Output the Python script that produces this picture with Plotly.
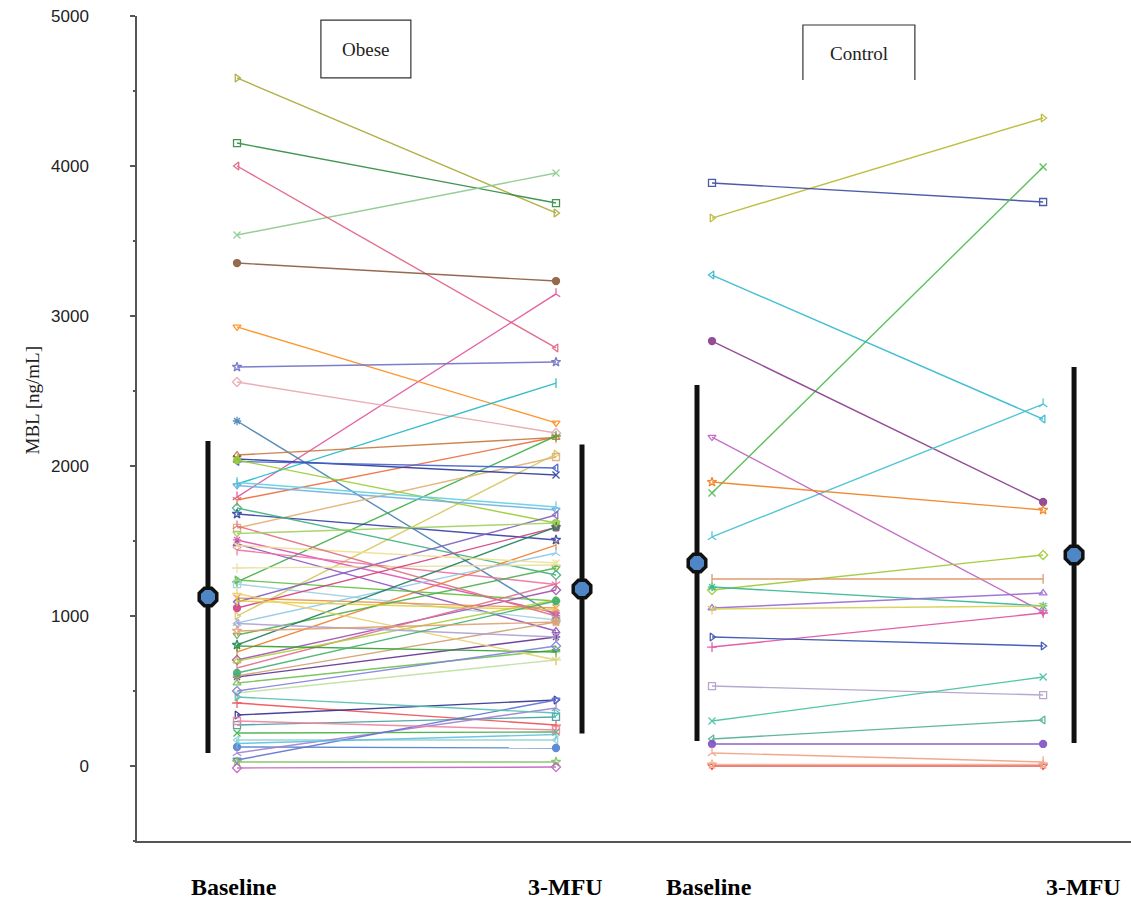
import plotly.graph_objects as go

# ---------------- data ----------------
TIME_LABELS = ["Baseline", "3-MFU"]
GROUPS = ["Obese", "Control"]

# x positions of the two time points for each group (axis units)
X_POS = {"Obese": (0.0, 1.0), "Control": (1.489, 2.527)}
MEAN_X = {"Obese": (-0.091, 1.0815), "Control": (1.442, 2.624)}

OBESE_BASELINE = [4587, 4153, 3540, 4000, 3353, 1793, 2927, 2660, 2560, 1880,
                  2300, 2073, 1773, 1227, 1000, 1587, 2047, 2030, 2040, 1890,
                  1870, 1680, 1720, 760, 1507, 1480, 1440, 1320, 1240, 1213,
                  1120, 1093, 1053, 953, 873, 807, 707, 653, 593, 553,
                  487, 420, 340, 273, 220, 173, 127, 87, 40, 27,
                  -13, 1100, 600, 700, 800, 1150, 460, 300, 1470, 950,
                  620, 1600, 1550, 900, 500, 150]
OBESE_3MFU = [3687, 3753, 3953, 2787, 3233, 3147, 2287, 2693, 2220, 2553,
              1000, 2190, 2193, 2200, 2080, 2060, 1940, 1987, 1620, 1727,
              1707, 1507, 1273, 1473, 1020, 900, 1210, 1340, 1100, 973,
              1053, 1673, 1590, 1420, 1320, 1593, 1173, 1213, 860, 773,
              707, 273, 440, 327, 227, 173, 120, 387, 440, 27,
              -7, 1040, 960, 1107, 760, 707, 353, 240, 1353, 860,
              1100, 1000, 1620, 960, 800, 210]

CONTROL_BASELINE = [3653, 3887, 1820, 3273, 2833, 1527, 2193, 1893, 1173, 1247,
                    1193, 1053, 1047, 793, 860, 533, 300, 180, 147, 87, 0, 10]
CONTROL_3MFU = [4320, 3760, 3993, 2313, 1760, 2413, 1027, 1707, 1407, 1247,
                1067, 1153, 1067, 1020, 800, 473, 593, 307, 147, 27, 0, 10]

# mean +/- SD (Baseline, 3-MFU)
MEANS = {"Obese": (1127, 1180), "Control": (1353, 1407)}
SDS = {"Obese": (1040, 963), "Control": (1187, 1253)}

Y_TICKS = [0, 1000, 2000, 3000, 4000, 5000]

# ---------------- styles ----------------
OBESE_COLORS = ["#a8a832", "#2e8b40", "#8cc88c", "#e06080", "#8b5a3c", "#e0509a", "#ff8c1a",
                "#7070c8", "#e8a8b0", "#20b8c8", "#4682b4", "#c8783c", "#f06a3c", "#3cb043",
                "#d8c860", "#e0b070", "#2a3a9a", "#4060d0", "#9acd32", "#60d0e0", "#70b0e0",
                "#3040a0", "#40b080", "#f08030", "#e050b0", "#9050c0", "#f070a0", "#e8e0a0",
                "#60c040", "#a0d0e0", "#f09040", "#8060c0", "#d04080", "#90c8e8", "#50b050",
                "#208060", "#a050b0", "#e07090", "#603090", "#70c050", "#c0e0a0", "#f05050",
                "#303090", "#40a0a0", "#40b040", "#90d0d0", "#5080d0", "#a080d0", "#6070d0",
                "#80c060", "#c060c0", "#e0d040", "#d0a070", "#b0d040", "#30a030", "#e8d070",
                "#50c0b0", "#f080a0", "#f0e090", "#b0a0d0", "#40b070", "#e07080", "#a0d060",
                "#e0a070", "#8080e0", "#60c0e0"]
CONTROL_COLORS = ["#b8b830", "#3a4aa0", "#4cbb4c", "#30b8d0", "#8a3a8a", "#40c0d0", "#c060c0",
                  "#f08020", "#a0c830", "#d89060", "#30b890", "#9a6ad0", "#d8d050", "#e050a0",
                  "#3050b0", "#b0a0c8", "#40c0a0", "#50b090", "#8050c0", "#f0a080", "#e04040",
                  "#f4b090"]
SYMBOLS = ["triangle-right-open", "square-open", "x-thin-open", "triangle-left-open",
           "circle", "y-up-open", "triangle-down-open", "star-open", "diamond-open",
           "line-ns-open", "asterisk-open", "triangle-up-open", "y-down-open", "cross-thin-open"]

fig = go.Figure()


def add_pairs(group, base, follow, colors):
    x0, x1 = X_POS[group]
    for i, (b, f) in enumerate(zip(base, follow)):
        c = colors[i % len(colors)]
        fig.add_trace(go.Scatter(
            x=[x0, x1], y=[b, f], mode="lines+markers",
            line=dict(color=c, width=1.4),
            marker=dict(symbol=SYMBOLS[i % len(SYMBOLS)], size=7, color=c,
                        line=dict(color=c, width=1.3)),
            opacity=0.9, showlegend=False, hoverinfo="skip"))


add_pairs("Obese", OBESE_BASELINE, OBESE_3MFU, OBESE_COLORS)
add_pairs("Control", CONTROL_BASELINE, CONTROL_3MFU, CONTROL_COLORS)

for g in GROUPS:
    fig.add_trace(go.Scatter(
        x=list(MEAN_X[g]), y=list(MEANS[g]), mode="markers",
        marker=dict(symbol="octagon", size=19, color="#4f86c6",
                    line=dict(color="#111111", width=3.5)),
        error_y=dict(type="data", array=list(SDS[g]), visible=True,
                     color="#111111", thickness=5, width=0),
        showlegend=False, hoverinfo="skip"))

SERIF = "Liberation Serif, Times New Roman, serif"

# group label boxes
fig.add_shape(type="rect", xref="x", yref="y", x0=0.263, x1=0.545, y0=4587, y1=4973,
              line=dict(color="#333333", width=1.2), fillcolor="rgba(0,0,0,0)")
fig.add_shape(type="path", xref="x", yref="y",
              path="M 1.774 4573 L 1.774 4940 L 2.125 4940 L 2.125 4573",
              line=dict(color="#333333", width=1.2))
fig.add_annotation(x=0.404, y=4780, xref="x", yref="y", text="Obese", showarrow=False,
                   font=dict(family=SERIF, size=19, color="#222"))
fig.add_annotation(x=1.950, y=4750, xref="x", yref="y", text="Control", showarrow=False,
                   font=dict(family=SERIF, size=19, color="#222"))

# time point labels under the axis
LABEL_X = [-0.009, 1.031, 1.480, 2.655]
for lx, txt in zip(LABEL_X, TIME_LABELS * 2):
    fig.add_annotation(x=lx, y=0, xref="x", yref="paper", yshift=-46, yanchor="middle",
                       text="<b>" + txt + "</b>", showarrow=False,
                       font=dict(family=SERIF, size=24, color="#000"))

# y-axis title
fig.add_annotation(x=0, y=2440, xref="paper", yref="y", xshift=-118, text="MBL [ng/mL]",
                   textangle=-90, showarrow=False,
                   font=dict(family=SERIF, size=19, color="#222"))

fig.update_layout(
    width=1131, height=903,
    margin=dict(l=137, r=0, t=16, b=62),
    paper_bgcolor="white", plot_bgcolor="white",
    showlegend=False,
    xaxis=dict(range=[-0.3135, 2.8025], showline=True, linecolor="#555555", linewidth=1.5,
               showticklabels=False, ticks="", showgrid=False, zeroline=False),
    yaxis=dict(range=[-500, 5000], showline=True, linecolor="#555555", linewidth=1.5,
               tickmode="array", tickvals=Y_TICKS, ticktext=[str(v) for v in Y_TICKS],
               ticks="outside", ticklen=5, tickcolor="#555555", tickwidth=1.5,
               minor=dict(ticks="outside", ticklen=2, dtick=500, tick0=0, tickcolor="#555555"),
               ticklabelstandoff=38,
               tickfont=dict(family="Liberation Sans, Arial, sans-serif", size=17, color="#222"),
               showgrid=False, zeroline=False),
)

fig.write_html("out.html")
